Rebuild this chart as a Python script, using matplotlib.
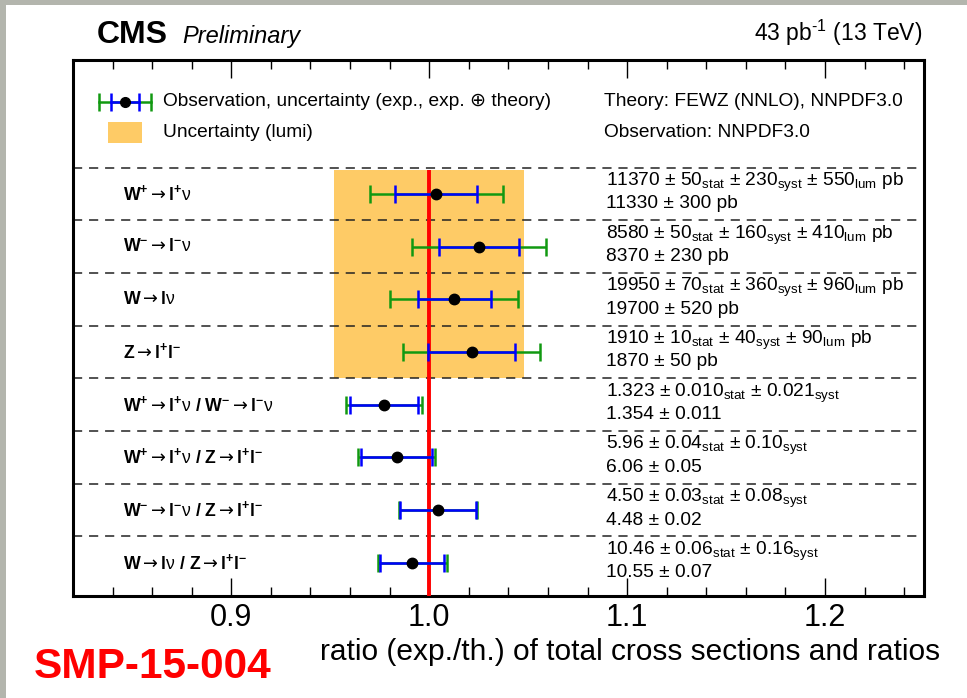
import matplotlib
matplotlib.use('Agg')
import matplotlib.pyplot as plt
from matplotlib.patches import Rectangle
from matplotlib.ticker import MultipleLocator, FormatStrFormatter
import matplotlib.transforms as mtransforms

plt.rcParams['font.family'] = ['Liberation Sans', 'DejaVu Sans']
plt.rcParams['mathtext.fontset'] = 'custom'
plt.rcParams['mathtext.rm'] = 'Liberation Sans'
plt.rcParams['mathtext.it'] = 'Liberation Sans:italic'
plt.rcParams['mathtext.bf'] = 'Liberation Sans:bold'
plt.rcParams['mathtext.sf'] = 'DejaVu Sans'

# measured cross sections (pb) and ratios, with predictions
channels = ['Wp', 'Wm', 'W', 'Z', 'Wp/Wm', 'Wp/Z', 'Wm/Z', 'W/Z']
measured = [11370, 8580, 19950, 1910, 1.323, 5.96, 4.50, 10.46]
stat_err = [50, 50, 70, 10, 0.010, 0.04, 0.03, 0.06]
syst_err = [230, 160, 360, 40, 0.021, 0.10, 0.08, 0.16]
lumi_err = [550, 410, 960, 90, None, None, None, None]
theory = [11330, 8370, 19700, 1870, 1.354, 6.06, 4.48, 10.55]
theory_err = [300, 230, 520, 50, 0.011, 0.05, 0.02, 0.07]
decimals = [0, 0, 0, 0, 3, 2, 2, 2]
lumi_rel = 0.048

# row labels
arrow = r'\mathsf{\rightarrow}'
name = {
    'Wp': r'\mathbf{W^{+}}' + arrow + r'\mathbf{l^{+}}\mathrm{\nu}',
    'Wm': r'\mathbf{W^{-}}' + arrow + r'\mathbf{l^{-}}\mathrm{\nu}',
    'W': r'\mathbf{W}' + arrow + r'\mathbf{l}\mathrm{\nu}',
    'Z': r'\mathbf{Z}' + arrow + r'\mathbf{l^{+}l^{-}}',
}


def row_label(ch):
    parts = ch.split('/')
    return '$' + r'\ \mathbf{/}\ '.join(name[p] for p in parts) + '$'


GREEN = '#119911'
BLUE = '#0000ff'
ORANGE = '#fecb66'
FS = 13.8

fig = plt.figure(figsize=(9.67, 6.98), dpi=100)
fig.patch.set_facecolor('#b3b5ad')
fig.add_artist(Rectangle((6 / 967, 0), 1, 1 - 5 / 698, transform=fig.transFigure,
                         facecolor='white', edgecolor='none', zorder=-1))

ax = fig.add_axes([73 / 967, 1 - 596 / 698, 851 / 967, 536 / 698])
ax.set_xlim(0.82, 1.25)
ax.set_ylim(7.63, -2.54)
trans = mtransforms.blended_transform_factory(ax.transAxes, ax.transData)

nrow = len(channels)

# luminosity band behind the cross-section rows
ax.add_patch(Rectangle((1 - lumi_rel, -0.45), 2 * lumi_rel, 3.95,
                       facecolor=ORANGE, edgecolor='none', zorder=1))

for y in range(nrow):
    ax.axhline(y - 0.5, color='#222222', lw=1.1, ls=(0, (6, 4.5)), zorder=1.5)

ax.plot([1.0, 1.0], [-0.45, 7.63], color='#ff0000', lw=2.8, zorder=3,
        solid_capstyle='butt')

for i in range(nrow):
    ratio = measured[i] / theory[i]
    exp = (stat_err[i] ** 2 + syst_err[i] ** 2) ** 0.5
    tot = (exp ** 2 + theory_err[i] ** 2) ** 0.5
    ax.errorbar(ratio, i, xerr=tot / theory[i], fmt='none', ecolor=GREEN,
                elinewidth=1.8, capsize=6.5, capthick=1.8, zorder=4)
    ax.errorbar(ratio, i, xerr=exp / theory[i], fmt='none', ecolor=BLUE,
                elinewidth=1.8, capsize=6.5, capthick=1.8, zorder=5)
    ax.plot(ratio, i, 'o', color='black', ms=7.5, zorder=6)

    ax.text(0.059, i, row_label(channels[i]), transform=trans, fontsize=12.8,
            va='center', ha='left', zorder=7)

    f = '{:.%df}' % decimals[i]
    line1 = (f.format(measured[i]) + ' ± ' + f.format(stat_err[i]) + r'$_{\rm stat}$'
             + ' ± ' + f.format(syst_err[i]) + r'$_{\rm syst}$')
    line2 = f.format(theory[i]) + ' ± ' + f.format(theory_err[i])
    if lumi_err[i] is not None:
        line1 += ' ± ' + f.format(lumi_err[i]) + r'$_{\rm lum}$' + ' pb'
        line2 += ' pb'
    ax.text(0.626, i - 0.22, line1, transform=trans, fontsize=FS,
            va='center', ha='left', zorder=7)
    ax.text(0.626, i + 0.19, line2, transform=trans, fontsize=FS,
            va='center', ha='left', zorder=7)

# legend block
ly1, ly2 = -1.746, -1.16
kx = 0.0611
ax.plot([kx - 0.031, kx + 0.031], [ly1, ly1], color=GREEN, lw=1.8, transform=trans)
ax.plot([kx - 0.016, kx + 0.016], [ly1, ly1], color=BLUE, lw=1.8, transform=trans)
for dx, c in [(-0.031, GREEN), (0.031, GREEN), (-0.016, BLUE), (0.016, BLUE)]:
    ax.plot([kx + dx, kx + dx], [ly1 - 0.17, ly1 + 0.17], color=c, lw=1.8,
            transform=trans, solid_capstyle='butt')
ax.plot([kx], [ly1], 'o', color='black', ms=7, transform=trans)
ax.add_patch(Rectangle((0.0411, ly2 - 0.2), 0.04, 0.4, transform=trans,
                       facecolor=ORANGE, edgecolor='none'))
ax.text(0.106, ly1, 'Observation, uncertainty (exp., exp. ⊕ theory)', transform=trans,
        fontsize=FS, va='center', ha='left')
ax.text(0.106, ly2, 'Uncertainty (lumi)', transform=trans,
        fontsize=FS, va='center', ha='left')
ax.text(0.624, ly1, 'Theory: FEWZ (NNLO), NNPDF3.0', transform=trans,
        fontsize=FS, va='center', ha='left')
ax.text(0.624, ly2, 'Observation: NNPDF3.0', transform=trans,
        fontsize=FS, va='center', ha='left')

# axes styling
ax.set_yticks([])
ax.xaxis.set_major_locator(MultipleLocator(0.1))
ax.xaxis.set_minor_locator(MultipleLocator(0.02))
ax.xaxis.set_major_formatter(FormatStrFormatter('%.1f'))
ax.tick_params(axis='x', which='both', direction='in', top=True, width=1.0)
ax.tick_params(axis='x', which='major', length=13, labelsize=22, pad=5)
ax.tick_params(axis='x', which='minor', length=6.5)
for sp in ax.spines.values():
    sp.set_linewidth(2.2)

fig.text(940 / 967, 1 - 652 / 698, 'ratio (exp./th.) of total cross sections and ratios',
         fontsize=21.5, ha='right', va='center')

fig.text(97 / 967, 1 - 43 / 698, 'CMS', fontsize=23, fontweight='bold', ha='left',
         va='baseline')
fig.text(182 / 967, 1 - 43 / 698, 'Preliminary', fontsize=17, fontstyle='italic',
         ha='left', va='baseline')
fig.text(922 / 967, 1 - 41 / 698, r'43 pb$^{\text{-1}}$ (13 TeV)', fontsize=16.5,
         ha='right', va='baseline')

fig.text(34 / 967, 1 - 678 / 698, 'SMP-15-004', fontsize=30.5, fontweight='bold',
         color='#ff0000', ha='left', va='baseline')

fig.savefig('out.png', dpi=100, facecolor=fig.get_facecolor())
